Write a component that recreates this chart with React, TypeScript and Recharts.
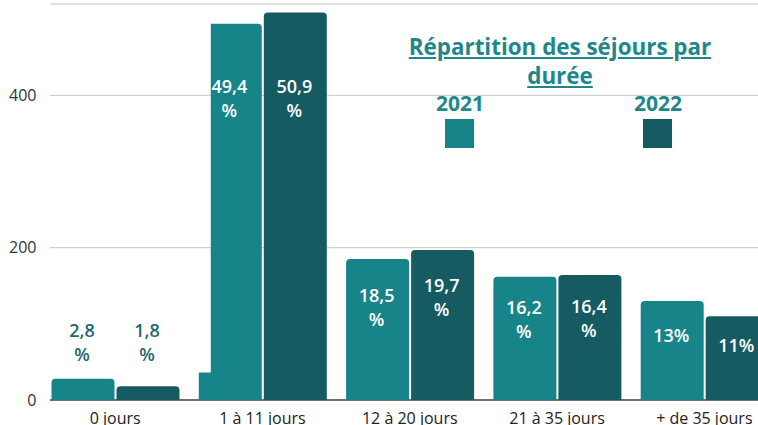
import React from 'react';
import { BarChart, Bar, XAxis, YAxis, CartesianGrid, LabelList } from 'recharts';

const categories = ['0 jours', '1 à 11 jours', '12 à 20 jours', '21 à 35 jours', '+ de 35 jours'];
const values2021 = [28, 494, 185, 162, 130];
const values2022 = [18, 509, 197, 164, 110];
const labels2021 = ['2,8\n%', '49,4\n%', '18,5\n%', '16,2\n%', '13%'];
const labels2022 = ['1,8\n%', '50,9\n%', '19,7\n%', '16,4\n%', '11%'];
const notch2021 = [0, 36, 0, 0, 0];
const yTicks = [0, 200, 400];
const seriesNames = ['2021', '2022'];
const titleLines = ['Répartition des séjours par', 'durée'];

const C2021 = '#17848a';
const C2022 = '#165b61';
const TITLE = '#1f878c';
const DARK_LABEL = '#1c6a70';
const FONT = '"Open Sans", "Noto Sans", sans-serif';

const data = categories.map((c, i) => ({
  cat: c,
  v2021: values2021[i],
  v2022: values2022[i],
  notch: notch2021[i],
}));

function BarShape(props: any) {
  const { x, y, width, height, fill, payload, dataKey } = props;
  if (!height || height <= 0) return null;
  const r = Math.min(4, height / 2, width / 2);
  const base = y + height;
  const value = payload[dataKey];
  const ppu = height / value;
  const notch = dataKey === 'v2021' ? payload.notch : 0;
  if (notch && notch > 0) {
    const nw = width * 0.19;
    const nt = base - notch * ppu;
    const d = `M${x},${base} L${x},${nt} L${x + nw},${nt} L${x + nw},${y} L${x + width - r},${y} Q${x + width},${y} ${x + width},${y + r} L${x + width},${base} Z`;
    return <path d={d} fill={fill} />;
  }
  const d = `M${x},${base} L${x},${y + r} Q${x},${y} ${x + r},${y} L${x + width - r},${y} Q${x + width},${y} ${x + width},${y + r} L${x + width},${base} Z`;
  return <path d={d} fill={fill} />;
}

const makeLabel = (labels: string[]) => (props: any) => {
  const { x, y, width, height, value, index } = props;
  if (!value) return null;
  const base = y + height;
  const ppu = height / value;
  const lines = labels[index].split('\n');
  let mid: number;
  let color: string;
  if (height < 40) {
    mid = base - 76 * ppu;
    color = DARK_LABEL;
  } else {
    const y400 = base - 400 * ppu;
    mid = Math.max(y + Math.min(0.35 * height, 48), y400 + 3);
    color = '#ffffff';
  }
  const cx = x + width / 2 - 1;
  const lh = 24;
  const start = mid - ((lines.length - 1) * lh) / 2;
  return (
    <text x={cx} textAnchor="middle" fontSize={18} fontWeight={600} fill={color} fontFamily={FONT}>
      {lines.map((l, k) => (
        <tspan key={k} x={cx} y={start + k * lh + 6.4}>
          {l}
        </tspan>
      ))}
    </text>
  );
};

export default function App() {
  return (
    <div
      style={{
        position: 'absolute',
        left: 0,
        top: 0,
        width: 758,
        height: 425,
        overflow: 'hidden',
        background: '#ffffff',
        fontFamily: FONT,
      }}
    >
      <BarChart
        width={778}
        height={425}
        data={data}
        margin={{ top: 4, right: 0, left: 0, bottom: 0 }}
        barGap={2}
      >
        <CartesianGrid vertical={false} x={50} width={708} stroke="#c6c6c6" fill="none" />
        <XAxis
          dataKey="cat"
          height={25}
          interval={0}
          axisLine={false}
          tickLine={false}
          tickSize={0}
          tickMargin={13}
          tick={{ fontSize: 16, fill: '#222222', fontFamily: FONT }}
        />
        <YAxis
          width={41.5}
          domain={[0, 520]}
          ticks={yTicks}
          axisLine={false}
          tickLine={false}
          tickSize={0}
          tickMargin={5}
          tick={{ fontSize: 16, fill: '#333333', fontFamily: FONT }}
        />
        <Bar dataKey="v2021" name={seriesNames[0]} fill={C2021} barSize={63} isAnimationActive={false} shape={BarShape}>
          <LabelList dataKey="v2021" content={makeLabel(labels2021)} />
        </Bar>
        <Bar dataKey="v2022" name={seriesNames[1]} fill={C2022} barSize={63} isAnimationActive={false} shape={BarShape}>
          <LabelList dataKey="v2022" content={makeLabel(labels2022)} />
        </Bar>
        <CartesianGrid
          vertical={false}
          x={50}
          width={708}
          stroke="#6e6e6e"
          strokeWidth={2}
          fill="none"
          horizontalCoordinatesGenerator={(p: any) => {
            const ya = p && p.yAxis;
            if (ya && typeof ya.scale === 'function') return [ya.scale(0)];
            return [p.offset.top + p.offset.height];
          }}
        />
      </BarChart>
      <div
        style={{
          position: 'absolute',
          left: 360,
          width: 400,
          top: 32,
          textAlign: 'center',
          fontSize: 22.4,
          lineHeight: '29px',
          fontWeight: 700,
          color: TITLE,
          textDecoration: 'underline',
          letterSpacing: 0,
        }}
      >
        {titleLines[0]}
        <br />
        {titleLines[1]}
      </div>
      {[
        { name: seriesNames[0], color: C2021, cx: 460 },
        { name: seriesNames[1], color: C2022, cx: 658 },
      ].map((s) => (
        <React.Fragment key={s.name}>
          <div
            style={{
              position: 'absolute',
              left: s.cx - 40,
              width: 80,
              top: 89,
              textAlign: 'center',
              fontSize: 21,
              lineHeight: '29px',
              fontWeight: 700,
              color: TITLE,
            }}
          >
            {s.name}
          </div>
          <div
            style={{
              position: 'absolute',
              left: s.cx - 15,
              top: 119,
              width: 29,
              height: 29,
              background: s.color,
            }}
          />
        </React.Fragment>
      ))}
    </div>
  );
}
